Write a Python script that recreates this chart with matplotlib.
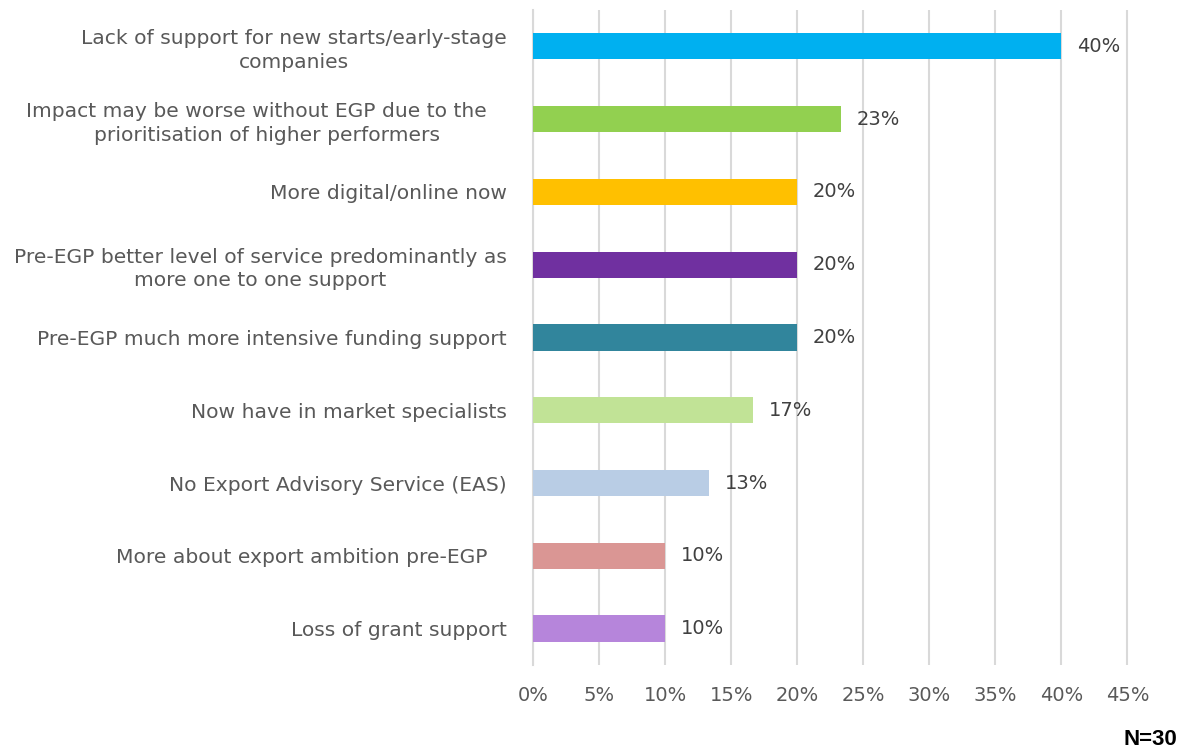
import matplotlib.pyplot as plt
import numpy as np

# survey responses, N=30 respondents
n_total = 30
categories = [
    'Lack of support for new starts/early-stage\ncompanies',
    'Impact may be worse without EGP due to the   \nprioritisation of higher performers',
    'More digital/online now',
    'Pre-EGP better level of service predominantly as\nmore one to one support',
    'Pre-EGP much more intensive funding support',
    'Now have in market specialists',
    'No Export Advisory Service (EAS)',
    'More about export ambition pre-EGP   ',
    'Loss of grant support',
]
counts = [12, 7, 6, 6, 6, 5, 4, 3, 3]
colors = ['#00B0F0', '#92D050', '#FFC000', '#7030A0', '#31859C',
          '#C1E396', '#B9CDE5', '#DA9694', '#B685DB']
xticks = [0, 5, 10, 15, 20, 25, 30, 35, 40, 45]

pct = [100.0 * c / n_total for c in counts]

plt.rcParams['font.family'] = ['DejaVu Sans']

fig = plt.figure(figsize=(11.9, 7.56), dpi=100)
ax = fig.add_axes([0.448, 0.1204, 0.5005, 0.8664])

y = np.arange(len(categories))
ax.barh(y, pct, height=0.36, color=colors, zorder=3)
for yi, p in zip(y, pct):
    ax.annotate('%d%%' % round(p), (p, yi), xytext=(11, 0), textcoords='offset points',
                ha='left', va='center', fontsize=14, color='#404040')

ax.set_ylim(len(categories) - 0.5, -0.5)
ax.set_xlim(0, 45.1)
ax.set_xticks(xticks)
ax.set_xticklabels(['%d%%' % t for t in xticks], fontsize=14, color='#595959')
ax.set_yticks(y)
ax.set_yticklabels(categories, fontsize=14.6, color='#595959',
                   multialignment='center', linespacing=1.3)
ax.tick_params(axis='y', length=0, pad=19)
ax.tick_params(axis='x', length=0, pad=15)

ax.grid(axis='x', color='#D9D9D9', linewidth=1.5, zorder=0)
for s in ['top', 'right', 'bottom']:
    ax.spines[s].set_visible(False)
ax.spines['left'].set_color('#D9D9D9')
ax.spines['left'].set_linewidth(1.5)

fig.text(0.989, 0.008, 'N=30', ha='right', va='bottom', fontsize=16,
         fontweight='bold', family='Liberation Sans', color='black')

fig.savefig('out.png', dpi=100)
